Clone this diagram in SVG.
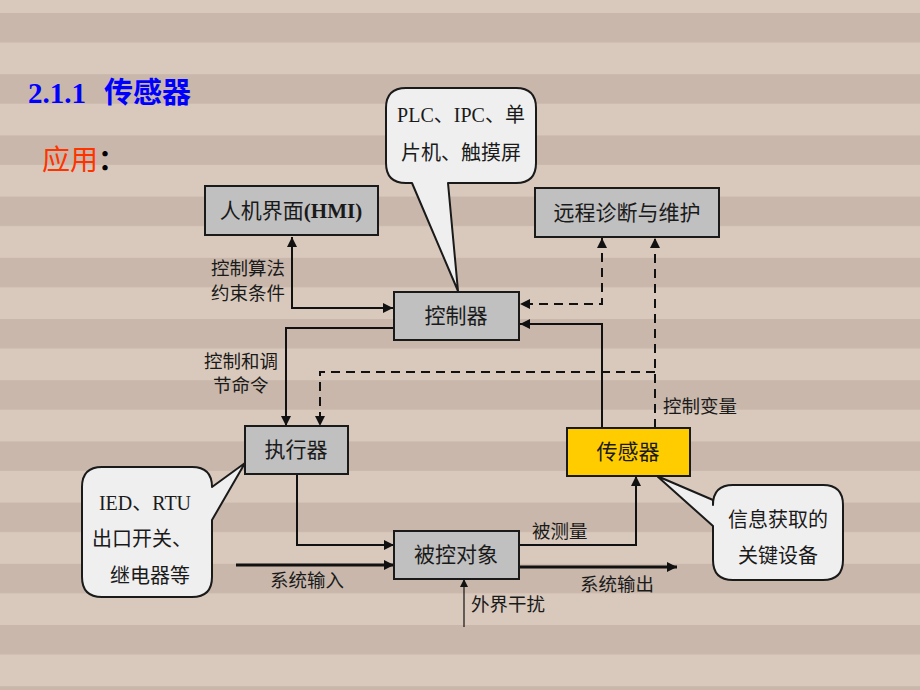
<svg xmlns="http://www.w3.org/2000/svg" width="920" height="690" viewBox="0 0 920 690">
<style>
.box{fill:#c0c0c0;stroke:#1a1a1a;stroke-width:2}
.sensor{fill:#ffcc00;stroke:#1a1a1a;stroke-width:2}
.call{fill:#efefef;stroke:#1a1a1a;stroke-width:2;stroke-linejoin:round}
.t{font-family:"Noto Sans CJK SC","Liberation Serif",sans-serif;font-size:21px;fill:#1a1a1a;text-anchor:middle}
.c{font-family:"Noto Sans CJK SC","Liberation Serif",sans-serif;font-size:20px;fill:#1a1a1a;text-anchor:middle}
.s{font-family:"Liberation Serif","Noto Sans CJK SC",serif}
.lbl{font-family:"Noto Sans CJK SC",sans-serif;font-size:18.5px;fill:#1a1a1a}
.ln{fill:none;stroke:#111;stroke-width:2}
.dash{stroke-dasharray:9 6}
.thick{stroke-width:3}
</style>
<defs>
<pattern id="bg" patternUnits="userSpaceOnUse" x="0" y="13" width="920" height="61.2">
<rect width="920" height="61.2" fill="#d9c9bc"/>
<rect width="920" height="29.5" fill="#c8b7aa"/>
</pattern>
<marker id="ar" viewBox="0 0 10 10" refX="10" refY="5" markerWidth="14" markerHeight="10" markerUnits="userSpaceOnUse" orient="auto-start-reverse">
<path d="M0,0 L10,5 L0,10 z" fill="#111"/>
</marker>
<marker id="ars" viewBox="0 0 10 10" refX="10" refY="5" markerWidth="10" markerHeight="8" markerUnits="userSpaceOnUse" orient="auto">
<path d="M0,0 L10,5 L0,10 z" fill="#111"/>
</marker>
</defs>
<rect width="920" height="690" fill="url(#bg)"/>
<g id="title">
<text x="28" y="103" font-family="'Liberation Serif',serif" font-weight="bold" font-size="29" fill="#0000ff">2.1.1</text>
<text x="104" y="103" font-family="'Noto Sans CJK SC',sans-serif" font-weight="bold" font-size="29" fill="#0000ff">传感器</text>
<text x="42" y="170" font-family="'Noto Sans CJK SC',sans-serif" font-size="28" fill="#ff3300">应用<tspan fill="#000" font-weight="bold">：</tspan></text>
</g>
<g id="connectors">
<path class="ln" d="M292,237 V308 H393" marker-start="url(#ar)" marker-end="url(#ar)"/>
<path class="ln" d="M394,328 H286 V426" marker-end="url(#ar)"/>
<path class="ln dash" d="M655,428 V238" marker-end="url(#ar)"/>
<path class="ln dash" d="M655,372 H320 V426" marker-end="url(#ar)"/>
<path class="ln dash" d="M602,238 V304 H520" marker-start="url(#ar)" marker-end="url(#ar)"/>
<path class="ln" d="M602,428 V324 H520" marker-end="url(#ar)"/>
<path class="ln" d="M297,474 V545 H394" marker-end="url(#ar)"/>
<path class="ln thick" d="M236,565 H394" marker-end="url(#ar)"/>
<path class="ln" d="M519,545 H636 V476" marker-end="url(#ar)"/>
<path class="ln thick" d="M519,567 H677" marker-end="url(#ar)"/>
<path class="ln" style="stroke-width:1.2" d="M464,627 V579" marker-end="url(#ars)"/>
<text class="lbl" x="211" y="275">控制算法</text>
<text class="lbl" x="211" y="300">约束条件</text>
<text class="lbl" x="204" y="368">控制和调</text>
<text class="lbl" x="213" y="392">节命令</text>
<text class="lbl" x="663" y="413">控制变量</text>
<text class="lbl" x="532" y="538">被测量</text>
<text class="lbl" x="270" y="587">系统输入</text>
<text class="lbl" x="580" y="591">系统输出</text>
<text class="lbl" x="471" y="611">外界干扰</text>
</g>
<g id="hmi">
<rect class="box" x="205" y="186" width="173" height="49"/>
<text class="t" x="291" y="218">人机界面<tspan class="s" font-weight="bold">(HMI)</tspan></text>
</g>
<g id="remote">
<rect class="box" x="535" y="188" width="184" height="49"/>
<text class="t" x="627" y="220">远程诊断与维护</text>
</g>
<g id="controller">
<rect class="box" x="394" y="292" width="125" height="48"/>
<text class="t" x="456" y="323">控制器</text>
</g>
<g id="actuator">
<rect class="box" x="245" y="426" width="103" height="48"/>
<text class="t" x="296" y="457">执行器</text>
</g>
<g id="sensor">
<rect class="sensor" x="567" y="428" width="123" height="48"/>
<text class="t" x="628" y="459">传感器</text>
</g>
<g id="plant">
<rect class="box" x="394" y="531" width="125" height="48"/>
<text class="t" x="456" y="562">被控对象</text>
</g>
<g id="callout-plc">
<path class="call" d="M406,88 H516 Q536,88 536,108 V163 Q536,183 516,183 H448 L458,291 L412,183 H406 Q386,183 386,163 V108 Q386,88 406,88 Z"/>
<text class="c" x="461" y="122"><tspan class="s">PLC</tspan>、<tspan class="s">IPC</tspan>、单</text>
<text class="c" x="461" y="160">片机、触摸屏</text>
</g>
<g id="callout-ied">
<path class="call" d="M102,467 H192 Q212,467 212,487 L245,463 L212,520 V577 Q212,597 192,597 H102 Q82,597 82,577 V487 Q82,467 102,467 Z"/>
<text class="c" x="145" y="510"><tspan class="s">IED</tspan>、<tspan class="s">RTU</tspan></text>
<text class="c" x="142" y="546">出口开关、</text>
<text class="c" x="150" y="583">继电器等</text>
</g>
<g id="callout-info">
<path class="call" d="M733,485 H823 Q843,485 843,505 V560 Q843,580 823,580 H733 Q713,580 713,560 V526 L657,476 L713,500 V505 Q713,485 733,485 Z"/>
<text class="c" x="778" y="527">信息获取的</text>
<text class="c" x="778" y="563">关键设备</text>
</g>
</svg>
